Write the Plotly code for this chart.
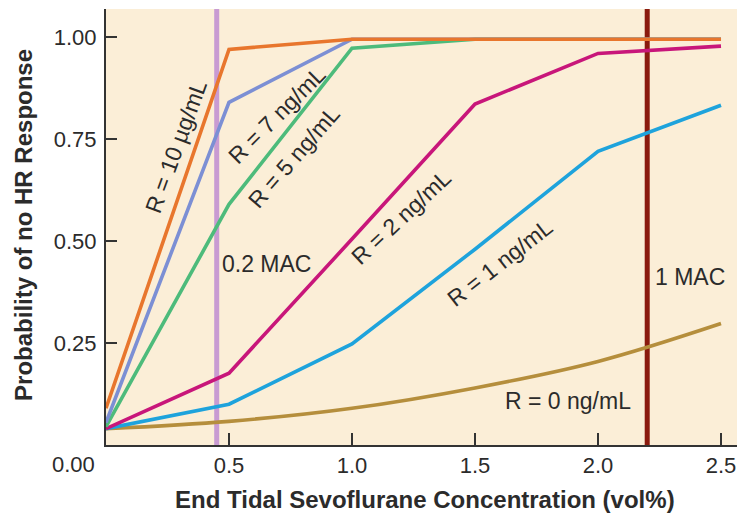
import plotly.graph_objects as go

# ---- data ----
conc = [0.0, 0.5, 1.0, 1.5, 2.0, 2.5]
r10 = [0.09, 0.97, 0.995, 0.995, 0.995, 0.995]
r7 = [0.055, 0.84, 0.995, 0.995, 0.995, 0.995]
r5 = [0.045, 0.59, 0.973, 0.995, 0.995, 0.995]
r2 = [0.04, 0.176, 0.505, 0.836, 0.96, 0.978]
r1 = [0.04, 0.10, 0.248, 0.48, 0.72, 0.833]
r0 = [0.04, 0.058, 0.09, 0.14, 0.205, 0.298]

series_names = ["R = 10 µg/mL", "R = 7 ng/mL", "R = 5 ng/mL", "R = 2 ng/mL", "R = 1 ng/mL", "R = 0 ng/mL"]
series_vals = [r10, r7, r5, r2, r1, r0]
series_colors = ["#E8762D", "#7C8FD4", "#4DBB7B", "#C8167A", "#1EA3DC", "#B58E3C"]
series_shapes = ["linear", "linear", "linear", "linear", "linear", "spline"]

mac_02 = 0.45
mac_1 = 2.2

x_ticks = [0.5, 1.0, 1.5, 2.0, 2.5]
y_ticks = [0.25, 0.50, 0.75, 1.00]

FONT = "Liberation Sans, Arial, Helvetica, sans-serif"
TXT = "#2b2b2b"

fig = go.Figure()
# draw lowest curves first so the high-concentration curves sit on top
for name, vals, col, shp in reversed(list(zip(series_names, series_vals, series_colors, series_shapes))):
    fig.add_trace(go.Scatter(x=conc, y=vals, mode="lines", name=name,
                             line=dict(color=col, width=3.6, shape=shp),
                             showlegend=False, hoverinfo="skip"))

fig.add_shape(type="line", xref="x", yref="paper", x0=mac_02, x1=mac_02, y0=0, y1=1,
              line=dict(color="#C99BD2", width=5), layer="below")
fig.add_shape(type="line", xref="x", yref="paper", x0=mac_1, x1=mac_1, y0=0, y1=1,
              line=dict(color="#8A1A0E", width=5), layer="below")

labels = [
    ("R = 10 µg/mL", 0.285, 0.73, -70),
    ("R = 7 ng/mL", 0.695, 0.809, -45),
    ("R = 5 ng/mL", 0.764, 0.706, -49),
    ("R = 2 ng/mL", 1.20, 0.559, -43),
    ("R = 1 ng/mL", 1.60, 0.446, -38),
    ("R = 0 ng/mL", 1.878, 0.108, 0),
    ("0.2 MAC", 0.654, 0.445, 0),
    ("1 MAC", 2.374, 0.412, 0),
]
for t, x, y, a in labels:
    fig.add_annotation(text=t, x=x, y=y, xref="x", yref="y", showarrow=False,
                       xanchor="center", yanchor="middle",
                       textangle=a, font=dict(family=FONT, size=23, color=TXT))

# shared origin label
fig.add_annotation(text="0.00", x=-0.052, y=-0.0436, xref="paper", yref="paper", showarrow=False,
                   xanchor="center", yanchor="middle",
                   font=dict(family=FONT, size=22, color=TXT))
# axis titles
fig.add_annotation(text="<b>End Tidal Sevoflurane Concentration (vol%)</b>", x=0.5055, y=-0.126,
                   xref="paper", yref="paper", showarrow=False,
                   xanchor="center", yanchor="middle",
                   font=dict(family=FONT, size=24, color=TXT))
fig.add_annotation(text="<b>Probability of no HR Response</b>", x=-0.130, y=0.5046,
                   xref="paper", yref="paper", showarrow=False, textangle=-90,
                   xanchor="center", yanchor="middle",
                   font=dict(family=FONT, size=24, color=TXT))

fig.update_layout(
    width=739, height=515,
    margin=dict(l=106, r=2, t=9, b=70, autoexpand=False),
    paper_bgcolor="white",
    plot_bgcolor="#FBEED7",
    font=dict(family=FONT, size=22, color=TXT),
)
fig.update_xaxes(range=[0, 2.565], tickvals=x_ticks, tickformat=".1f", automargin=False,
                 ticks="inside", ticklen=12, tickwidth=1.5, tickcolor="#333",
                 showline=True, linecolor="#333", linewidth=2, showgrid=False, zeroline=False,
                 tickfont=dict(family=FONT, size=22, color=TXT))
fig.update_yaxes(range=[0, 1.069], tickvals=y_ticks, tickformat=".2f", automargin=False,
                 ticks="inside", ticklen=11, tickwidth=1.5, tickcolor="#333",
                 showline=True, linecolor="#333", linewidth=2, showgrid=False, zeroline=False,
                 ticklabelstandoff=3,
                 tickfont=dict(family=FONT, size=22, color=TXT))

fig.write_html("out.html", config={"displayModeBar": False},
               post_script="document.body.style.margin='0';")
